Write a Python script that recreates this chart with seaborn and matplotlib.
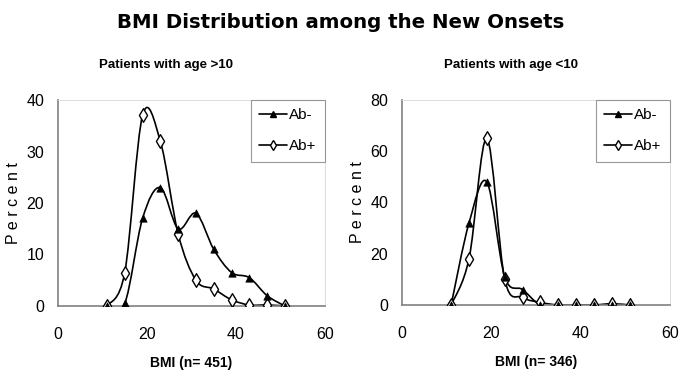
import matplotlib
matplotlib.use("Agg")
import matplotlib.pyplot as plt
import seaborn as sns
import pandas as pd
import numpy as np
from matplotlib.path import Path
from matplotlib.patches import PathPatch
from matplotlib.lines import Line2D

bmi = [11, 15, 19, 23, 27, 31, 35, 39, 43, 47, 51]
old_neg = [0, 0.5, 17, 23, 15, 18, 11, 6.5, 5.5, 2, 0]
old_pos = [0, 6.5, 37, 32, 14, 5, 3.3, 1.2, 0.2, 0.2, 0]
young_neg = [0, 32, 48, 11, 6, 0, 0, 0, 0, 0, 0]
young_pos = [0, 18, 65, 10, 3, 1, 0, 0, 0, 0.5, 0]
series_names = ["Ab-", "Ab+"]
titles = ["Patients with age >10", "Patients with age <10"]
xlabels = ["BMI (n= 451)", "BMI (n= 346)"]
ymax = [40, 80]
ystep = [10, 20]
main_title = "BMI Distribution among the New Onsets"

sns.set_theme(style="white")
plt.rcParams["font.family"] = ["Liberation Sans", "DejaVu Sans"]
for key in ["text.color", "axes.labelcolor", "xtick.color", "ytick.color"]:
    plt.rcParams[key] = "black"


def smooth_path(xs, ys):
    """Excel-style smoothed line: cubic Bezier through the data points."""
    p = np.column_stack([xs, ys]).astype(float)
    n = len(p)
    verts = [p[0]]
    codes = [Path.MOVETO]
    for i in range(n - 1):
        p0 = p[i - 1] if i > 0 else p[i]
        p3 = p[i + 2] if i + 2 < n else p[i + 1]
        c1 = p[i] + (p[i + 1] - p0) / 6.0
        c2 = p[i + 1] - (p3 - p[i]) / 6.0
        verts += [c1, c2, p[i + 1]]
        codes += [Path.CURVE4] * 3
    return Path(verts, codes)


fig = plt.figure(figsize=(6.81, 3.71), dpi=100)
W, H = 681, 371
boxes = [(58, 100, 325, 306), (402, 100, 670, 305)]
datasets = [(old_neg, old_pos), (young_neg, young_pos)]
styles = [dict(marker="^", s=28, color="black", edgecolor="black", linewidth=0.5),
          dict(marker="d", s=48, color="white", edgecolor="black", linewidth=1.0)]

for i, (l, t, r, b) in enumerate(boxes):
    ax = fig.add_axes([l / W, 1 - b / H, (r - l) / W, (b - t) / H])
    neg, pos = datasets[i]
    df = pd.DataFrame({"BMI": bmi * 2, "Percent": neg + pos,
                       "grp": [series_names[0]] * len(bmi) + [series_names[1]] * len(bmi)})
    for k, name in enumerate(series_names):
        sub = df[df.grp == name]
        ax.add_patch(PathPatch(smooth_path(sub["BMI"], sub["Percent"]), fill=False,
                               edgecolor="black", lw=1.2, transform=ax.transData,
                               zorder=2))
    for k in [1, 0]:
        name = series_names[k]
        sns.scatterplot(data=df[df.grp == name], x="BMI", y="Percent", ax=ax,
                        zorder=3, legend=False, **styles[k])
    ax.set_xlim(0, 60)
    ax.set_ylim(0, ymax[i])
    ax.set_xticks([0, 20, 40, 60])
    ax.set_yticks(list(range(0, ymax[i] + 1, ystep[i])))
    ax.tick_params(axis="both", labelsize=11.5, length=0,
                   bottom=True, left=True)
    ax.tick_params(axis="x", pad=15)
    ax.tick_params(axis="y", pad=10)
    for s in ["left", "bottom"]:
        ax.spines[s].set_color("#808080")
        ax.spines[s].set_linewidth(1.2)
    for s in ["top", "right"]:
        ax.spines[s].set_color("#d8d8d8")
        ax.spines[s].set_linewidth(0.6)
    ax.set_xlabel(xlabels[i], fontsize=10, fontweight="bold", labelpad=10)
    ax.set_ylabel("P e r c e n t", fontsize=11.5, labelpad=4)
    ax.text(0.405, 1 + 35 / (b - t), titles[i], transform=ax.transAxes,
            ha="center", va="center", fontsize=9.5, fontweight="bold")
    handles = [Line2D([], [], color="black", lw=1.2, marker="^", markersize=4.5,
                      markerfacecolor="black"),
               Line2D([], [], color="black", lw=1.2, marker="d", markersize=5.5,
                      markerfacecolor="white")]
    leg = ax.legend(handles, series_names, loc="upper right", bbox_to_anchor=(1.0, 1.0),
                    frameon=True, fontsize=11, handlelength=1.8, handletextpad=0.15,
                    borderaxespad=0, fancybox=False, labelspacing=1.1,
                    borderpad=0.55)
    leg.get_frame().set_edgecolor("#808080")
    leg.get_frame().set_linewidth(0.8)

fig.text(0.5, 1 - 22 / H, main_title, ha="center", va="center",
         fontsize=14.2, fontweight="bold", family="DejaVu Sans", color="black")

fig.savefig("out.png", dpi=100)
